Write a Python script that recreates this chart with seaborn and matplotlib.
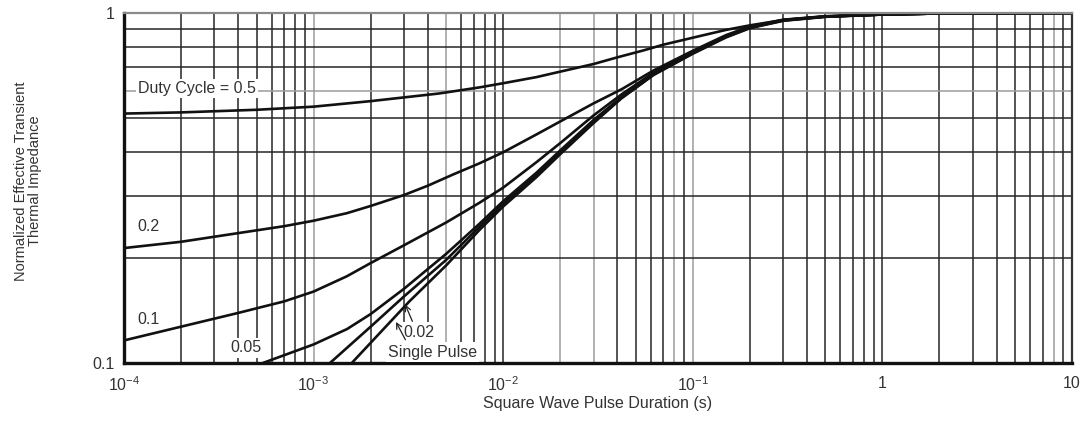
import numpy as np
import pandas as pd
import matplotlib
matplotlib.use('Agg')
import matplotlib.pyplot as plt
import seaborn as sns
from matplotlib.ticker import FixedLocator, LogLocator, NullFormatter

# --- curves (pulse duration [s], normalized Zth) ---
t_d50 = [1e-4, 2e-4, 5e-4, 1e-3, 2e-3, 4.6e-3, 7.5e-3, 1e-2, 1.5e-2, 2e-2, 3e-2, 4e-2, 5.5e-2, 7e-2,
         0.1, 0.15, 0.2, 0.3, 0.5, 1, 2, 10]
z_d50 = [0.516, 0.52, 0.529, 0.54, 0.56, 0.589, 0.613, 0.63, 0.656, 0.68, 0.715, 0.747, 0.782, 0.812,
         0.85, 0.895, 0.922, 0.955, 0.977, 0.99, 0.997, 1.0]

t_d20 = [1e-4, 2e-4, 4e-4, 7e-4, 1e-3, 1.5e-3, 2e-3, 3e-3, 4e-3, 5.4e-3, 7.5e-3, 1e-2, 1.5e-2, 2e-2,
         3e-2, 4.2e-2, 6.2e-2, 0.1, 0.15, 0.2, 0.3, 0.5, 1, 2, 10]
z_d20 = [0.213, 0.222, 0.235, 0.246, 0.255, 0.268, 0.281, 0.302, 0.321, 0.345, 0.372, 0.40, 0.45, 0.49,
         0.552, 0.605, 0.685, 0.78, 0.865, 0.915, 0.957, 0.979, 0.991, 0.997, 1.0]

t_d10 = [1e-4, 2e-4, 4e-4, 7e-4, 1e-3, 1.5e-3, 2e-3, 3e-3, 5e-3, 7.5e-3, 1e-2, 1.5e-2, 2e-2, 3e-2,
         4.2e-2, 6.2e-2, 0.1, 0.15, 0.2, 0.3, 0.5, 1, 2, 10]
z_d10 = [0.116, 0.127, 0.139, 0.15, 0.16, 0.177, 0.193, 0.217, 0.252, 0.287, 0.317, 0.375, 0.425, 0.51,
         0.585, 0.675, 0.772, 0.86, 0.912, 0.955, 0.978, 0.99, 0.997, 1.0]

t_d05 = [5.4e-4, 1e-3, 1.5e-3, 2e-3, 3e-3, 5e-3, 7.5e-3, 1e-2, 1.5e-2, 2e-2, 3e-2, 4.2e-2, 6.2e-2,
         0.1, 0.15, 0.2, 0.3, 0.5, 1, 2, 10]
z_d05 = [0.1, 0.113, 0.125, 0.138, 0.163, 0.205, 0.25, 0.29, 0.35, 0.405, 0.495, 0.575, 0.668,
         0.77, 0.858, 0.91, 0.953, 0.977, 0.99, 0.997, 1.0]

t_d02 = [1.22e-3, 2e-3, 3e-3, 5e-3, 7.5e-3, 1e-2, 1.5e-2, 2e-2, 3e-2, 4.2e-2, 6.2e-2,
         0.1, 0.15, 0.2, 0.3, 0.5, 1, 2, 10]
z_d02 = [0.1, 0.127, 0.155, 0.197, 0.245, 0.285, 0.345, 0.40, 0.49, 0.572, 0.666,
         0.767, 0.855, 0.907, 0.952, 0.976, 0.99, 0.997, 1.0]

t_single = [1.59e-3, 3.2e-3, 5e-3, 7.5e-3, 1e-2, 1.5e-2, 2e-2, 3e-2, 4.2e-2, 6.2e-2,
            0.1, 0.15, 0.2, 0.3, 0.5, 1, 2, 10]
z_single = [0.1, 0.15, 0.19, 0.24, 0.28, 0.34, 0.395, 0.485, 0.57, 0.665,
            0.765, 0.852, 0.905, 0.95, 0.975, 0.99, 0.997, 1.0]

x_ticks = [1e-4, 1e-3, 1e-2, 1e-1, 1, 10]
x_tick_labels = ['$10^{-4}$', '$10^{-3}$', '$10^{-2}$', '$10^{-1}$', '1', '10']
y_ticks = [0.1, 1]
y_tick_labels = ['0.1', '1']

# gridlines that came out lighter on the scan
light_x = [1e-3, 5e-3, 2e-2, 3e-2, 8e-2, 1e-1, 8]
light_y = [0.6]

curves = {
    '0.5': (t_d50, z_d50),
    '0.2': (t_d20, z_d20),
    '0.1': (t_d10, z_d10),
    '0.05': (t_d05, z_d05),
    '0.02': (t_d02, z_d02),
    'single': (t_single, z_single),
}
df = pd.concat([pd.DataFrame({'duration': t, 'zth': z, 'duty': k})
                for k, (t, z) in curves.items()], ignore_index=True)

sns.set_style('white')
plt.rcParams['font.family'] = ['Liberation Sans', 'DejaVu Sans']
plt.rcParams['mathtext.fontset'] = 'custom'
plt.rcParams['mathtext.rm'] = 'Liberation Sans'
plt.rcParams['mathtext.it'] = 'Liberation Sans:italic'
plt.rcParams['mathtext.default'] = 'regular'

txt = '#333333'
fig = plt.figure(figsize=(10.89, 4.21), dpi=100)
ax = fig.add_axes([124 / 1089, 1 - 363 / 421, 948 / 1089, 350 / 421])

sns.lineplot(data=df, x='duration', y='zth', units='duty', estimator=None,
             sort=False, color='#111111', lw=1.9, ax=ax, legend=False)

ax.set_xscale('log')
ax.set_yscale('log')
ax.set_xlim(1e-4, 10)
ax.set_ylim(0.1, 1)

ax.xaxis.set_major_locator(FixedLocator(x_ticks))
ax.xaxis.set_minor_locator(LogLocator(base=10, subs=np.arange(2, 10), numticks=20))
ax.xaxis.set_minor_formatter(NullFormatter())
ax.set_xticklabels(x_tick_labels)
ax.yaxis.set_major_locator(FixedLocator(y_ticks))
ax.yaxis.set_minor_locator(FixedLocator(np.arange(2, 10) / 10))
ax.yaxis.set_minor_formatter(NullFormatter())
ax.set_yticklabels(y_tick_labels)

ax.grid(True, which='both', color='#262626', lw=1.1)
ax.set_axisbelow(True)
ax.tick_params(which='both', length=0, labelsize=11.5, colors=txt)
ax.tick_params(axis='x', pad=9)
ax.tick_params(axis='y', pad=7)

for side in ['left', 'bottom']:
    ax.spines[side].set_linewidth(2.4)
    ax.spines[side].set_color('#111111')
ax.spines['top'].set_linewidth(1.6)
ax.spines['top'].set_color('#8a8a8a')
ax.spines['right'].set_linewidth(1.6)
ax.spines['right'].set_color('#333333')

ax.set_xlabel('Square Wave Pulse Duration (s)', fontsize=11.5, color=txt)
ax.xaxis.set_label_coords(0.5, -0.095)
ax.set_ylabel('Normalized Effective Transient\nThermal Impedance', fontsize=10.5,
              color=txt, linespacing=1.0)
ax.yaxis.set_label_coords(-0.087, 0.52)

box = dict(facecolor='white', edgecolor='none', pad=1.5)
fs = 11.5
ax.text(1.19e-4, 0.61, 'Duty Cycle = 0.5', fontsize=fs, color=txt, va='center', bbox=box)
ax.text(1.18e-4, 0.245, '0.2', fontsize=fs, color=txt, va='center', bbox=box)
ax.text(1.18e-4, 0.133, '0.1', fontsize=fs, color=txt, va='center', bbox=box)
ax.text(3.62e-4, 0.1104, '0.05', fontsize=fs, color=txt, va='center', bbox=box)
ax.text(2.96e-3, 0.1226, '0.02', fontsize=fs, color=txt, va='center', bbox=box)
ax.text(2.47e-3, 0.1075, 'Single Pulse', fontsize=fs, color=txt, va='center', bbox=box)

arrow = dict(arrowstyle='->', lw=0.9, color='#222222', shrinkA=0, shrinkB=0)
ax.annotate('', xy=(3.04e-3, 0.147), xytext=(3.32e-3, 0.1315), arrowprops=arrow)
ax.annotate('', xy=(2.72e-3, 0.131), xytext=(3.05e-3, 0.1165), arrowprops=arrow)

fig.canvas.draw()
for tick in ax.xaxis.get_major_ticks() + ax.xaxis.get_minor_ticks():
    if any(np.isclose(tick.get_loc(), v, rtol=1e-6) for v in light_x):
        tick.gridline.set_color('#9c9c9c')
for tick in ax.yaxis.get_major_ticks() + ax.yaxis.get_minor_ticks():
    if any(np.isclose(tick.get_loc(), v, rtol=1e-6) for v in light_y):
        tick.gridline.set_color('#9c9c9c')

fig.savefig('out.png', dpi=100)
plt.close(fig)
